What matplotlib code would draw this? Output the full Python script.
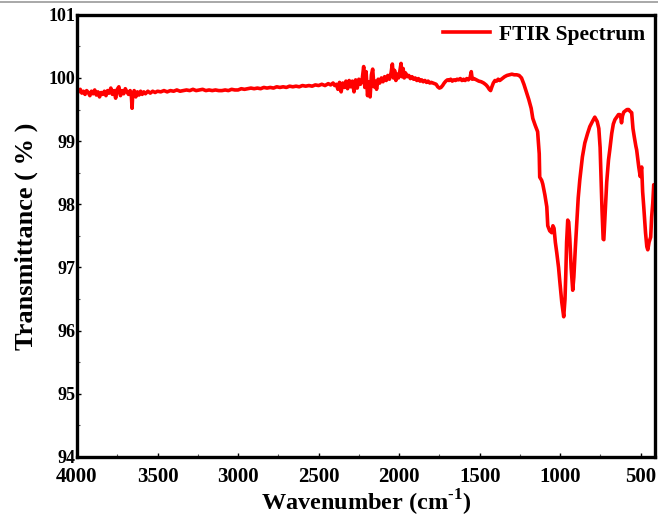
#!/usr/bin/env python3
"""FTIR spectrum plot."""

import matplotlib
matplotlib.use("Agg")
import matplotlib.pyplot as plt
from matplotlib.ticker import MultipleLocator
from matplotlib.lines import Line2D

# ---------- Data ----------
wavenumber = [
    4000, 3990, 3980, 3970, 3960, 3950, 3940, 3930, 3920, 3910, 3900, 3890, 3880, 3870,
    3860, 3850, 3840, 3830, 3820, 3810, 3800, 3790, 3780, 3770, 3760, 3750, 3740, 3730,
    3720, 3710, 3700, 3690, 3680, 3670, 3662, 3658, 3654, 3645, 3635, 3625, 3615, 3605,
    3595, 3585, 3575, 3560, 3545, 3530, 3515, 3500, 3480, 3460, 3440, 3420, 3400, 3380,
    3360, 3340, 3320, 3300, 3280, 3260, 3240, 3220, 3200, 3180, 3160, 3140, 3120, 3100,
    3080, 3060, 3040, 3020, 3000, 2980, 2960, 2940, 2920, 2900, 2880, 2860, 2840, 2820,
    2800, 2780, 2760, 2740, 2720, 2700, 2680, 2660, 2640, 2620, 2600, 2580, 2560, 2540,
    2520, 2500, 2480, 2460, 2440, 2425, 2410, 2400, 2390, 2380, 2370, 2360, 2350, 2340,
    2330, 2320, 2310, 2300, 2290, 2280, 2270, 2260, 2250, 2240, 2230, 2220, 2213, 2205,
    2196, 2188, 2180, 2172, 2164, 2156, 2148, 2140, 2130, 2120, 2110, 2100, 2090, 2080,
    2070, 2060, 2050, 2042, 2035, 2028, 2020, 2012, 2004, 1996, 1988, 1982, 1975, 1968,
    1960, 1950, 1940, 1930, 1920, 1910, 1900, 1890, 1880, 1870, 1860, 1850, 1840, 1830,
    1820, 1810, 1800, 1790, 1780, 1770, 1760, 1750, 1740, 1730, 1720, 1710, 1700, 1690,
    1680, 1670, 1660, 1650, 1640, 1630, 1620, 1610, 1600, 1590, 1580, 1570, 1560, 1552,
    1546, 1535, 1520, 1505, 1490, 1475, 1460, 1450, 1440, 1432, 1424, 1415, 1405, 1395,
    1385, 1375, 1360, 1345, 1330, 1315, 1300, 1285, 1270, 1255, 1240, 1225, 1210, 1195,
    1180, 1170, 1155, 1140, 1130, 1127, 1115, 1108, 1095, 1083, 1077, 1065, 1052, 1045,
    1038, 1030, 1021, 1010, 1003, 990, 978, 970, 965, 960, 953, 947, 940, 932,
    922, 915, 906, 897, 888, 878, 862, 847, 830, 816, 800, 785, 770, 760,
    752, 746, 740, 733, 729, 724, 718, 711, 700, 692, 680, 670, 660, 649,
    638, 630, 624, 619, 613, 605, 595, 585, 575, 565, 556, 548, 540, 530,
    525, 515, 512, 503, 497, 494, 488, 481, 470, 462, 456, 448, 438, 432,
    425, 419, 413,
]
transmittance = [
    99.80, 99.78, 99.82, 99.76, 99.79, 99.74, 99.80, 99.77, 99.72, 99.79, 99.75, 99.81, 99.73, 99.78,
    99.70, 99.77, 99.74, 99.79, 99.72, 99.80, 99.76, 99.84, 99.74, 99.80, 99.68, 99.82, 99.86, 99.72,
    99.80, 99.75, 99.83, 99.78, 99.74, 99.80, 99.70, 99.52, 99.74, 99.80, 99.70, 99.78, 99.73, 99.79,
    99.74, 99.78, 99.75, 99.79, 99.76, 99.79, 99.77, 99.79, 99.78, 99.80, 99.78, 99.80, 99.79, 99.81,
    99.79, 99.80, 99.81, 99.80, 99.82, 99.80, 99.81, 99.82, 99.80, 99.81, 99.80, 99.81, 99.80, 99.80,
    99.81, 99.80, 99.82, 99.81, 99.81, 99.83, 99.82, 99.83, 99.84, 99.83, 99.84, 99.83, 99.85, 99.84,
    99.85, 99.84, 99.86, 99.85, 99.86, 99.85, 99.87, 99.86, 99.87, 99.86, 99.88, 99.87, 99.88, 99.87,
    99.89, 99.88, 99.90, 99.88, 99.91, 99.89, 99.92, 99.88, 99.90, 99.82, 99.93, 99.78, 99.92, 99.85,
    99.95, 99.83, 99.96, 99.86, 99.95, 99.78, 99.97, 99.84, 99.98, 99.90, 99.96, 100.18, 99.85, 100.10,
    99.72, 99.94, 99.70, 100.05, 100.14, 99.86, 99.95, 99.82, 99.98, 99.92, 100.00, 99.94, 100.02, 99.96,
    100.04, 99.98, 100.08, 100.22, 100.00, 100.12, 99.96, 100.06, 100.00, 100.10, 100.23, 100.02, 100.15, 100.00,
    100.08, 100.02, 100.04, 99.99, 100.02, 99.98, 100.00, 99.96, 99.99, 99.95, 99.97, 99.94, 99.96, 99.93,
    99.95, 99.92, 99.93, 99.92, 99.91, 99.90, 99.86, 99.84, 99.85, 99.88, 99.92, 99.95, 99.97, 99.96,
    99.98, 99.95, 99.97, 99.96, 99.98, 99.97, 99.99, 99.96, 99.98, 99.96, 99.99, 99.97, 100.00, 100.10,
    99.98, 99.99, 99.97, 99.95, 99.94, 99.92, 99.89, 99.86, 99.82, 99.80, 99.86, 99.92, 99.96, 99.95,
    99.98, 99.96, 99.99, 100.02, 100.04, 100.05, 100.06, 100.05, 100.05, 100.04, 100.00, 99.90, 99.78, 99.66,
    99.52, 99.36, 99.25, 99.15, 98.80, 98.43, 98.38, 98.32, 98.15, 97.96, 97.66, 97.58, 97.55, 97.66,
    97.62, 97.40, 97.23, 97.00, 96.80, 96.45, 96.22, 96.50, 96.90, 97.40, 97.75, 97.72, 97.45, 97.00,
    96.64, 96.85, 97.30, 97.70, 98.10, 98.39, 98.75, 98.97, 99.12, 99.23, 99.31, 99.38, 99.31, 99.20,
    98.90, 98.40, 97.90, 97.45, 97.44, 97.70, 98.00, 98.35, 98.70, 98.86, 99.12, 99.27, 99.34, 99.38,
    99.42, 99.42, 99.38, 99.29, 99.40, 99.46, 99.48, 99.50, 99.50, 99.47, 99.45, 99.20, 99.07, 98.92,
    98.86, 98.65, 98.59, 98.44, 98.55, 98.59, 98.20, 97.96, 97.55, 97.33, 97.28, 97.40, 97.48, 97.80,
    98.02, 98.31, 98.20,
]

# ---------- Style ----------
plt.rcParams["font.family"] = ["Liberation Serif", "DejaVu Serif"]
plt.rcParams["font.weight"] = "bold"
plt.rcParams["mathtext.fontset"] = "custom"
plt.rcParams["mathtext.rm"] = "Liberation Serif:bold"
plt.rcParams["mathtext.bf"] = "Liberation Serif:bold"

fig = plt.figure(figsize=(6.58, 5.19), dpi=100)
ax = fig.add_axes([0.117, 0.1195, 0.878, 0.852])

ax.plot(wavenumber, transmittance, color="#ff0000", lw=2.6, label="FTIR Spectrum")

ax.set_xlim(4000, 413)
ax.set_ylim(94, 101)
ax.xaxis.set_major_locator(MultipleLocator(500))
ax.xaxis.set_minor_locator(MultipleLocator(250))
ax.yaxis.set_major_locator(MultipleLocator(1))
ax.yaxis.set_minor_locator(MultipleLocator(0.5))
ax.tick_params(which="both", direction="in", top=False, right=False)
ax.tick_params(which="major", length=3, width=1)
ax.tick_params(which="minor", length=2, width=0.8, color="#555555")
ax.tick_params(axis="x", labelsize=15, pad=7)
ax.tick_params(axis="y", labelsize=13, pad=1)
for lbl in ax.get_xticklabels() + ax.get_yticklabels():
    lbl.set_fontweight("bold")
for sp in ax.spines.values():
    sp.set_linewidth(2.4)

ax.set_xlabel(r"Wavenumber (cm$^{\text{-1}}$)", fontsize=17.5, fontweight="bold", labelpad=1)
ax.set_ylabel("Transmittance ( % )", fontsize=19, fontweight="bold", labelpad=8)

leg = ax.legend(loc="upper right", frameon=False, fontsize=15.5, handlelength=2.2,
                borderaxespad=0.05, handletextpad=0.4)
for t in leg.get_texts():
    t.set_fontweight("bold")

# thin grey border line along the top of the image
fig.add_artist(Line2D([0, 1], [0.996, 0.996], color="#999999", lw=1.2))

fig.savefig("out.png", dpi=100)
